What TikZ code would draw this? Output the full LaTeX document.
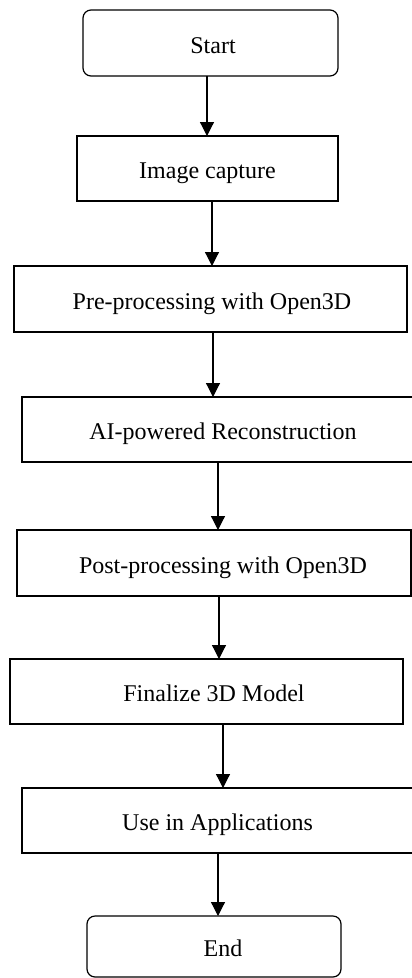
\documentclass[tikz,border=0pt]{standalone}
\usepackage{fontspec}
\setmainfont{Liberation Serif}
\usetikzlibrary{arrows.meta}
\begin{document}
\begin{tikzpicture}[x=1pt,y=-1pt,
  box/.style={draw, line width=1.2pt, rectangle, inner sep=0pt, outer sep=0pt,
    font=\fontsize{24}{28}\selectfont, text height=20pt, text depth=0pt},
  term/.style={box, rounded corners=8pt},
  arr/.style={line width=1.2pt, -{Triangle[width=14pt,length=14pt]}},
  tx/.style={execute at begin node={\hspace*{#1}}}
]
\useasboundingbox (0,0) rectangle (412,978);
\node[term, minimum width=255pt, minimum height=66pt, tx=5pt] (start) at (210.5,43) {Start};
\node[box, minimum width=261pt, minimum height=65pt] (img) at (207.5,168.5) {Image capture};
\node[box, minimum width=393pt, minimum height=66pt, tx=3pt] (pre) at (210.5,299) {Pre-processing with Open3D};
\node[box, minimum width=402pt, minimum height=65pt] (ai) at (223,429.5) {AI-powered Reconstruction};
\node[box, minimum width=394pt, minimum height=66pt, tx=18pt] (post) at (214,563) {Post-processing with Open3D};
\node[box, minimum width=393pt, minimum height=65pt, tx=15pt] (fin) at (206.5,691.5) {Finalize 3D Model};
\node[box, minimum width=391pt, minimum height=65pt] (use) at (217.5,820.5) {Use in Applications};
\node[term, minimum width=254pt, minimum height=61pt, tx=18pt] (end) at (214,946.5) {End};
\draw[arr] ([xshift=-3.5pt]start.south) -- ([xshift=-0.5pt]img.north);
\draw[arr] ([xshift=4.5pt]img.south) -- ([xshift=1.5pt]pre.north);
\draw[arr] ([xshift=2.5pt]pre.south) -- ([xshift=-10pt]ai.north);
\draw[arr] ([xshift=-5pt]ai.south) -- ([xshift=4pt]post.north);
\draw[arr] ([xshift=5pt]post.south) -- ([xshift=12.5pt]fin.north);
\draw[arr] ([xshift=16.5pt]fin.south) -- ([xshift=5.5pt]use.north);
\draw[arr] ([xshift=0.5pt]use.south) -- ([xshift=4pt]end.north);
\end{tikzpicture}
\end{document}
